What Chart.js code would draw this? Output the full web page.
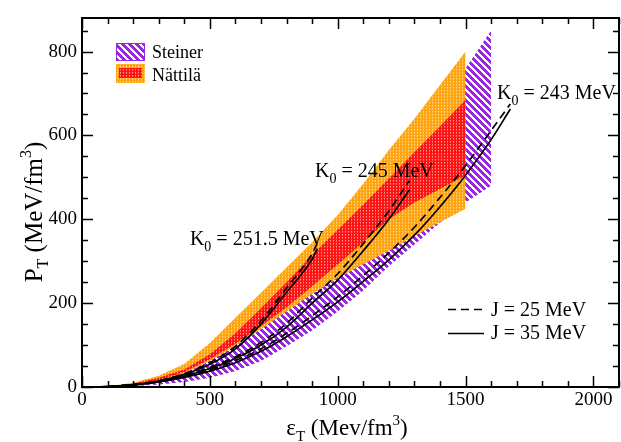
<!DOCTYPE html>
<html>
<head>
<meta charset="utf-8">
<script src="https://cdn.jsdelivr.net/npm/chart.js@4.4.0/dist/chart.umd.min.js"></script>
<style>
html, body { margin: 0; padding: 0; background: #fff; }
#wrap { width: 621px; height: 442px; position: relative; }
</style>
</head>
<body>
<div id="wrap"><canvas id="ChartHolder"></canvas></div>
<script>
// energy density grid for the Nattila bands (MeV/fm^3)
var bandX = [0, 100, 200, 300, 400, 500, 600, 700, 800, 900, 1000, 1100, 1200, 1300, 1400, 1500];
var nattilaOuterHi = [0, 2, 10, 27, 55, 105, 165, 225, 285, 345, 410, 485, 565, 640, 720, 800];
var nattilaOuterLo = [0, 1, 5, 14, 32, 62, 98, 138, 180, 222, 260, 293, 325, 360, 393, 425];
var nattilaInnerHi = [0, 1, 8, 22, 42, 78, 128, 188, 250, 315, 375, 435, 497, 560, 622, 685];
var nattilaInnerLo = [0, 1, 6, 16, 36, 66, 103, 145, 190, 240, 292, 345, 400, 440, 472, 505];

// Steiner band
var steinerX = [0, 100, 200, 300, 400, 500, 600, 700, 800, 900, 1000, 1100, 1200, 1300, 1400, 1500, 1600];
var steinerHi = [0, 1, 6, 18, 42, 80, 125, 170, 220, 275, 330, 390, 450, 520, 600, 760, 850];
var steinerLo = [0, 0, 2, 6, 12, 22, 38, 62, 97, 135, 180, 230, 288, 340, 392, 440, 480];

// model curves, J = 25 (dashed) and J = 35 (solid)
var k2515X = [0, 100, 200, 300, 400, 500, 600, 700, 800, 900, 920];
var k2515J25 = [0, 1, 6, 15, 32, 58, 97, 158, 236, 318, 343];
var k2515J35 = [0, 1, 5, 14, 30, 54, 91, 150, 226, 305, 330];

var k245X = [0, 100, 200, 300, 400, 500, 600, 700, 800, 900, 1000, 1100, 1200, 1280];
var k245J25 = [0, 1, 6, 14, 28, 47, 72, 106, 152, 212, 270, 342, 420, 492];
var k245J35 = [0, 1, 5, 13, 26, 44, 68, 100, 143, 200, 255, 325, 400, 470];

var k243X = [0, 100, 200, 300, 400, 500, 600, 700, 800, 900, 1000, 1100, 1200, 1300, 1400, 1500, 1600, 1675];
var k243J25 = [0, 1, 5, 13, 25, 41, 63, 91, 128, 170, 215, 266, 320, 381, 452, 528, 612, 675];
var k243J35 = [0, 1, 5, 12, 23, 38, 58, 85, 120, 160, 203, 252, 303, 362, 430, 505, 590, 663];

// where the K0 labels sit (data coords)
var k0Labels = [
    { text: '251.5', x: 422, y: 355 },
    { text: '245', x: 911, y: 517 },
    { text: '243', x: 1623, y: 703 }
];

var xTickVals = [0, 500, 1000, 1500, 2000];
var yTickVals = [0, 200, 400, 600, 800];
var xMax = 2100, yMax = 880;
var xMinor = 100, yMinor = 50;

var SERIF = '"Liberation Serif", Tinos, "Times New Roman", Times, "DejaVu Serif", serif';

function pts(xs, ys) {
    var out = [];
    for (var i = 0; i < xs.length; i++) out.push({ x: xs[i], y: ys[i] });
    return out;
}

function makePattern(w, h, base, dots) {
    var c = document.createElement('canvas');
    c.width = w; c.height = h;
    var g = c.getContext('2d');
    g.fillStyle = base;
    g.fillRect(0, 0, w, h);
    dots.forEach(function (d) {
        g.fillStyle = d[2];
        g.fillRect(d[0], d[1], 1, 1);
    });
    return g.createPattern(c, 'repeat');
}

function makeHatch() {
    var n = 7;
    var c = document.createElement('canvas');
    c.width = n; c.height = n;
    var g = c.getContext('2d');
    g.fillStyle = '#ffffff';
    g.fillRect(0, 0, n, n);
    g.fillStyle = '#9b24e6';
    for (var i = 0; i < n; i++) {
        for (var j = 0; j < n; j++) {
            if ((((i - j) % n) + n) % n < 4) g.fillRect(i, j, 1, 1);
        }
    }
    return g.createPattern(c, 'repeat');
}

var hatch = makeHatch();
var orangeFill = makePattern(3, 3, '#ffa514', [[0, 0, '#ffd98c'], [0, 1, '#ffc04a']]);
var redFill = makePattern(3, 3, '#ff1414', [[0, 0, '#ff9a9a'], [0, 1, '#ff5a5a']]);

function bandSet(data, fill, bg) {
    return {
        data: data, fill: fill, backgroundColor: bg,
        borderColor: 'rgba(0,0,0,0)', borderWidth: 0,
        pointRadius: 0, tension: 0
    };
}

function curveSet(data, dashed) {
    return {
        data: data, fill: false,
        borderColor: '#000', borderWidth: 1.7,
        borderDash: dashed ? [8, 5] : [],
        pointRadius: 0, cubicInterpolationMode: 'monotone'
    };
}

// draw a run of text pieces (with sub/superscripts) starting at x, baseline y
function drawParts(ctx, parts, x, y, center) {
    var w = 0;
    parts.forEach(function (p) {
        ctx.font = p.size + 'px ' + SERIF;
        p.w = ctx.measureText(p.t).width;
        w += p.w;
    });
    var cx = center ? x - w / 2 : x;
    ctx.textBaseline = 'alphabetic';
    ctx.textAlign = 'left';
    parts.forEach(function (p) {
        ctx.font = p.size + 'px ' + SERIF;
        ctx.fillText(p.t, cx, y + (p.dy || 0));
        cx += p.w;
    });
}

var decor = {
    id: 'decor',
    afterDraw: function (chart) {
        var ctx = chart.ctx, a = chart.chartArea;
        var xs = chart.scales.x, ys = chart.scales.y;
        ctx.save();
        ctx.fillStyle = '#000';
        ctx.strokeStyle = '#000';

        // inward ticks on all four sides
        ctx.lineWidth = 1.5;
        ctx.beginPath();
        for (var v = 0; v <= xMax; v += xMinor) {
            var px = Math.round(xs.getPixelForValue(v)) + 0.5;
            var len = xTickVals.indexOf(v) >= 0 ? 11 : 6;
            ctx.moveTo(px, a.bottom); ctx.lineTo(px, a.bottom - len);
            ctx.moveTo(px, a.top); ctx.lineTo(px, a.top + len);
        }
        for (v = 0; v <= yMax; v += yMinor) {
            var py = Math.round(ys.getPixelForValue(v)) + 0.5;
            len = yTickVals.indexOf(v) >= 0 ? 11 : 6;
            ctx.moveTo(a.left, py); ctx.lineTo(a.left + len, py);
            ctx.moveTo(a.right, py); ctx.lineTo(a.right - len, py);
        }
        ctx.stroke();

        ctx.lineWidth = 2;
        ctx.strokeRect(a.left, a.top, a.right - a.left, a.bottom - a.top);

        // K0 labels
        k0Labels.forEach(function (k) {
            drawParts(ctx, [
                { t: 'K', size: 20 },
                { t: '0', size: 14, dy: 6 },
                { t: ' = ' + k.text + ' MeV', size: 20 }
            ], xs.getPixelForValue(k.x), ys.getPixelForValue(k.y) + 7);
        });

        // band legend
        ctx.fillStyle = hatch;
        ctx.fillRect(116, 43, 29, 18);
        ctx.strokeStyle = '#9b24e6';
        ctx.lineWidth = 1;
        ctx.strokeRect(116.5, 43.5, 28, 17);
        ctx.fillStyle = orangeFill;
        ctx.fillRect(116, 64, 29, 19);
        ctx.fillStyle = redFill;
        ctx.fillRect(119, 68, 23, 10);
        ctx.fillStyle = '#000';
        drawParts(ctx, [{ t: 'Steiner', size: 18 }], 152, 58);
        drawParts(ctx, [{ t: 'Nättilä', size: 18 }], 152, 81);

        // J legend
        ctx.strokeStyle = '#000';
        ctx.lineWidth = 1.7;
        ctx.setLineDash([8, 5]);
        ctx.beginPath(); ctx.moveTo(448, 309.5); ctx.lineTo(482, 309.5); ctx.stroke();
        ctx.setLineDash([]);
        ctx.beginPath(); ctx.moveTo(448, 333.5); ctx.lineTo(484, 333.5); ctx.stroke();
        drawParts(ctx, [{ t: 'J = 25 MeV', size: 20 }], 491, 316);
        drawParts(ctx, [{ t: 'J = 35 MeV', size: 20 }], 491, 339);

        // axis titles
        drawParts(ctx, [
            { t: '\u03b5', size: 23 },
            { t: 'T', size: 15, dy: 6 },
            { t: ' (Mev/fm', size: 23 },
            { t: '3', size: 15, dy: -10 },
            { t: ')', size: 23 }
        ], 347, 435, true);

        ctx.translate(42, 212);
        ctx.rotate(-Math.PI / 2);
        drawParts(ctx, [
            { t: 'P', size: 25 },
            { t: 'T', size: 16, dy: 6 },
            { t: ' (MeV/fm', size: 25 },
            { t: '3', size: 16, dy: -11 },
            { t: ')', size: 25 }
        ], 0, 0, true);
        ctx.restore();
    }
};

var ctx = document.getElementById('ChartHolder');

var chartConfig = {
    type: 'line',
    data: {
        datasets: [
            curveSet(pts(k2515X, k2515J25), true),
            curveSet(pts(k2515X, k2515J35), false),
            curveSet(pts(k245X, k245J25), true),
            curveSet(pts(k245X, k245J35), false),
            curveSet(pts(k243X, k243J25), true),
            curveSet(pts(k243X, k243J35), false),
            bandSet(pts(bandX, nattilaInnerHi), '+1', redFill),
            bandSet(pts(bandX, nattilaInnerLo), false, redFill),
            bandSet(pts(bandX, nattilaOuterHi), '+1', orangeFill),
            bandSet(pts(bandX, nattilaOuterLo), false, orangeFill),
            bandSet(pts(steinerX, steinerHi), '+1', hatch),
            bandSet(pts(steinerX, steinerLo), false, hatch)
        ]
    },
    options: {
        responsive: false,
        animation: false,
        events: [],
        layout: { padding: { top: 18, right: 2, left: 0, bottom: 0 } },
        plugins: { legend: { display: false }, tooltip: { enabled: false } },
        scales: {
            x: {
                type: 'linear',
                min: 0, max: xMax,
                grid: { display: false, drawTicks: false },
                border: { display: false },
                ticks: {
                    autoSkip: false, maxRotation: 0, padding: 2,
                    color: '#000', font: { family: SERIF, size: 19 },
                    callback: function (v) { return String(v); }
                },
                afterBuildTicks: function (s) {
                    s.ticks = xTickVals.map(function (v) { return { value: v }; });
                },
                afterFit: function (s) { s.height = 55; }
            },
            y: {
                min: 0, max: yMax,
                grid: { display: false, drawTicks: false },
                border: { display: false },
                ticks: {
                    autoSkip: false, padding: 5,
                    color: '#000', font: { family: SERIF, size: 19 },
                    callback: function (v) { return String(v); }
                },
                afterBuildTicks: function (s) {
                    s.ticks = yTickVals.map(function (v) { return { value: v }; });
                },
                afterFit: function (s) { s.width = 82; }
            }
        }
    },
    plugins: [decor]
};

ctx.width = 621;
ctx.height = 442;
var currentChart = new Chart(ctx, chartConfig);
</script>
</body>
</html>
